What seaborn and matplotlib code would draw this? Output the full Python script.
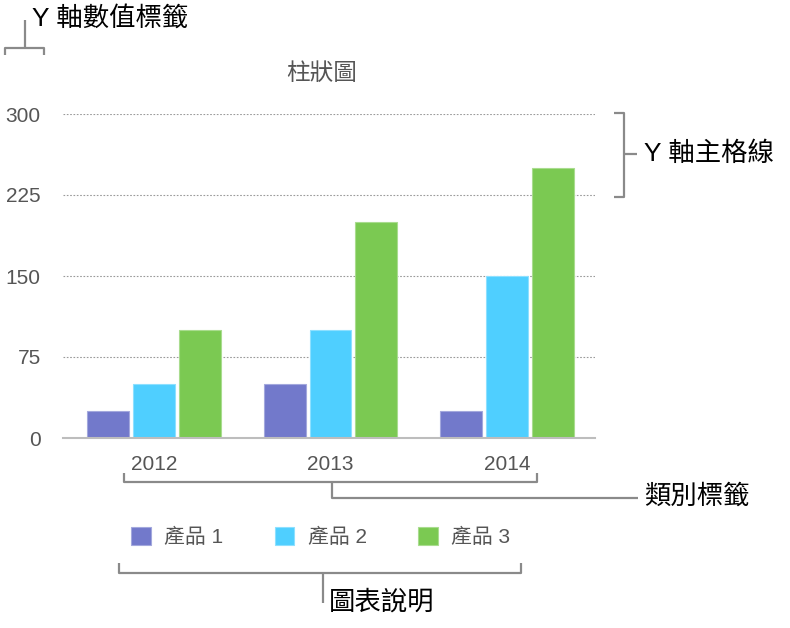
import pandas as pd
import matplotlib
matplotlib.use("Agg")
import matplotlib.pyplot as plt
from matplotlib.lines import Line2D
import matplotlib.colors as mcolors
import seaborn as sns

# Chart data
years = ["2012", "2013", "2014"]
products = ["產品 1", "產品 2", "產品 3"]
product1 = [25, 50, 25]
product2 = [50, 100, 150]
product3 = [100, 200, 250]
y_ticks = [0, 75, 150, 225, 300]
colors = ["#7279CB", "#4FCFFF", "#7BC952"]

df = pd.DataFrame({
    "year": years * 3,
    "product": [products[0]] * 3 + [products[1]] * 3 + [products[2]] * 3,
    "value": product1 + product2 + product3,
})

sns.set_style("white")
plt.rcParams["font.family"] = ["Liberation Sans", "Noto Sans CJK TC", "DejaVu Sans"]

W, H = 790, 628
fig = plt.figure(figsize=(W / 100, H / 100), dpi=100)
ax = fig.add_axes([63 / W, 1 - 438 / H, 532 / W, 324 / H])

sns.barplot(data=df, x="year", y="value", hue="product", palette=colors,
            width=0.78, gap=0.087, ax=ax, saturation=1)

# light edge on bars
for patch in ax.patches:
    fc = mcolors.to_rgb(patch.get_facecolor())
    ec = tuple(c + (1 - c) * 0.35 for c in fc)
    patch.set_edgecolor(ec)
    patch.set_linewidth(0.8)

ax.set_xlim(-0.516, 2.499)
ax.set_ylim(0, 300)
ax.set_yticks(y_ticks)
ax.set_yticklabels([str(t) for t in y_ticks])
ax.set_xlabel("")
ax.set_ylabel("")
ax.yaxis.grid(True, linestyle=(0, (1.5, 1.5)), color="#9a9a9a", linewidth=0.8)
ax.set_axisbelow(True)
for side in ["top", "right", "left"]:
    ax.spines[side].set_visible(False)
ax.spines["bottom"].set_color("#bdbdbd")
ax.spines["bottom"].set_linewidth(1.5)
ax.tick_params(axis="y", length=0, pad=16, labelsize=15, labelcolor="#555555")
ax.tick_params(axis="x", length=0, pad=12, labelsize=15, labelcolor="#555555")

# legend below
handles, labels = ax.get_legend_handles_labels()
ax.legend(handles, labels, ncol=3, frameon=False, loc="center left",
          bbox_to_anchor=(131 / W, 1 - 537 / H), bbox_transform=fig.transFigure,
          fontsize=15, labelcolor="#555555", handlelength=0.95, handleheight=0.95,
          handletextpad=0.65, columnspacing=2.45, borderpad=0, borderaxespad=0)

# chart title
fig.text(322 / W, 1 - 74 / H, "柱狀圖", ha="center", va="center",
         fontsize=17, color="#555555")

# callout brackets
def px_line(xs, ys):
    fig.add_artist(Line2D([x / W for x in xs], [1 - y / H for y in ys],
                          transform=fig.transFigure, color="#8a8a8a",
                          linewidth=1.6, solid_capstyle="butt"))

def px_text(x, y, s):
    fig.text(x / W, 1 - y / H, s, ha="left", va="center", fontsize=19,
             color="black")

# Y axis labels
px_line([5, 5, 44, 44], [55, 48, 48, 55])
px_line([25, 25], [48, 20])
px_text(32, 18, "Y 軸數值標籤")

# Y major gridlines
px_line([614, 624, 624, 614], [113, 113, 197, 197])
px_line([624, 637], [154, 154])
px_text(644, 154, "Y 軸主格線")

# category labels
px_line([124, 124, 537, 537], [473, 482, 482, 473])
px_line([332, 332, 638], [482, 498, 498])
px_text(644, 496, "類別標籤")

# legend
px_line([119, 119, 521, 521], [563, 573, 573, 563])
px_line([323, 323], [573, 603])
px_text(329, 602, "圖表說明")

fig.savefig("out.png", dpi=100)
